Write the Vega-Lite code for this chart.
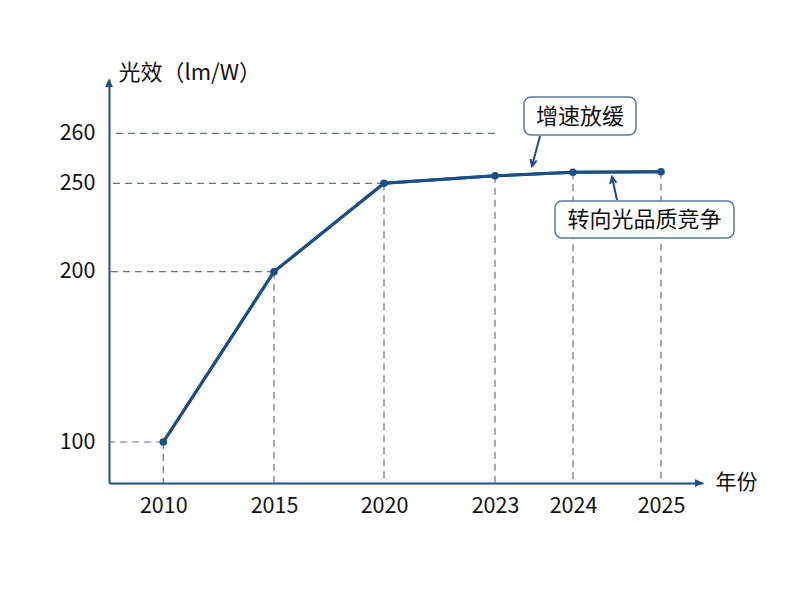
{
  "$schema": "https://vega.github.io/schema/vega-lite/v6.json",
  "width": 594,
  "height": 404,
  "autosize": {"type": "none"},
  "padding": {"left": 109, "top": 79, "right": 97, "bottom": 117},
  "background": "white",
  "config": {"view": {"stroke": null}, "font": "Noto Sans CJK SC"},
  "datasets": {
    "efficacy": [
      {"year": 2010, "lm": 100},
      {"year": 2015, "lm": 200},
      {"year": 2020, "lm": 250},
      {"year": 2023, "lm": 251.5},
      {"year": 2024, "lm": 252.2},
      {"year": 2025, "lm": 252.3}
    ],
    "levels": [
      {"lm": 100, "year": 2010},
      {"lm": 200, "year": 2015},
      {"lm": 250, "year": 2020},
      {"lm": 260, "year": 2023}
    ]
  },
  "layer": [
    {
      "data": {"name": "efficacy"},
      "mark": {"type": "line", "color": "#1c4e89", "strokeWidth": 3},
      "encoding": {
        "x": {
          "field": "year",
          "type": "quantitative",
          "scale": {
            "domain": [2007.5, 2010, 2015, 2020, 2023, 2024, 2025, 2025.5],
            "range": [0, 54.3, 165, 275, 386, 464, 552, 594],
            "nice": false,
            "zero": false
          },
          "axis": {
            "values": [2010, 2015, 2020, 2023, 2024, 2025],
            "format": "d",
            "title": "年份",
            "grid": false,
            "ticks": false,
            "tickSize": 0,
            "domainColor": "#1c4e89",
            "domainWidth": 2,
            "labelFontSize": 21.5,
            "labelColor": "#111111",
            "labelPadding": 12,
            "labelFlush": false,
            "labelOverlap": false,
            "titleFontSize": 21,
            "titleFontWeight": "normal",
            "titleColor": "#111111",
            "titleAngle": 0,
            "titleX": 606,
            "titleY": -1,
            "titleAlign": "left",
            "titleBaseline": "middle"
          }
        },
        "y": {
          "field": "lm",
          "type": "quantitative",
          "scale": {
            "domain": [76, 100, 200, 250, 260, 271],
            "range": [404, 363, 192.7, 104.3, 54.3, 0],
            "nice": false,
            "zero": false
          },
          "axis": {
            "values": [100, 200, 250, 260],
            "title": "光效（lm/W）",
            "grid": false,
            "ticks": false,
            "tickSize": 0,
            "domainColor": "#1c4e89",
            "domainWidth": 2,
            "labelFontSize": 21.5,
            "labelColor": "#111111",
            "labelPadding": 14,
            "labelFlush": false,
            "labelOverlap": false,
            "titleFontSize": 22,
            "titleFontWeight": "normal",
            "titleColor": "#111111",
            "titleAngle": 0,
            "titleX": 9,
            "titleY": -7,
            "titleAlign": "left",
            "titleBaseline": "middle"
          }
        }
      }
    },
    {
      "data": {"name": "levels"},
      "mark": {"type": "rule", "color": "#647386", "strokeWidth": 1.2, "strokeDash": [7, 5]},
      "encoding": {
        "x": {"field": "year", "type": "quantitative"},
        "x2": {"datum": 2007.5},
        "y": {"field": "lm", "type": "quantitative"}
      }
    },
    {
      "data": {"name": "efficacy"},
      "mark": {"type": "rule", "color": "#647386", "strokeWidth": 1.2, "strokeDash": [7, 5]},
      "encoding": {
        "x": {"field": "year", "type": "quantitative"},
        "y": {"field": "lm", "type": "quantitative"},
        "y2": {"datum": 76}
      }
    },
    {
      "data": {"name": "efficacy"},
      "mark": {"type": "line", "color": "#1c4e89", "strokeWidth": 3},
      "encoding": {
        "x": {"field": "year", "type": "quantitative"},
        "y": {"field": "lm", "type": "quantitative"}
      }
    },
    {
      "data": {"name": "efficacy"},
      "mark": {"type": "point", "filled": true, "opacity": 1, "color": "#1c4e89", "size": 58},
      "encoding": {
        "x": {"field": "year", "type": "quantitative"},
        "y": {"field": "lm", "type": "quantitative"}
      }
    },
    {
      "data": {"values": [{}]},
      "mark": {"type": "point", "shape": "M0,0L-2,-1L-2,1Z", "filled": true, "opacity": 1, "color": "#1c4e89", "size": 64},
      "encoding": {
        "x": {"datum": 2025.5, "type": "quantitative"},
        "y": {"datum": 76, "type": "quantitative"}
      }
    },
    {
      "data": {"values": [{}]},
      "mark": {"type": "point", "shape": "M0,0L-1,2L1,2Z", "filled": true, "opacity": 1, "color": "#1c4e89", "size": 64},
      "encoding": {
        "x": {"datum": 2007.5, "type": "quantitative"},
        "y": {"datum": 271, "type": "quantitative"}
      }
    },
    {
      "data": {"values": [{}]},
      "mark": {"type": "rule", "color": "#1f4e79", "strokeWidth": 2},
      "encoding": {
        "x": {"datum": 2023.577, "type": "quantitative"},
        "y": {"datum": 259.46, "type": "quantitative"},
        "x2": {"datum": 2023.474},
        "y2": {"datum": 253.46}
      }
    },
    {
      "data": {"values": [{}]},
      "mark": {"type": "point", "shape": "M-0.8,-1.6L0,0L0.8,-1.6", "filled": false, "opacity": 1, "strokeWidth": 2, "color": "#1f4e79", "size": 64, "angle": 15},
      "encoding": {
        "x": {"datum": 2023.474, "type": "quantitative"},
        "y": {"datum": 253.46, "type": "quantitative"}
      }
    },
    {
      "data": {"values": [{}]},
      "mark": {"type": "rule", "color": "#1f4e79", "strokeWidth": 2},
      "encoding": {
        "x": {"datum": 2024.5, "type": "quantitative"},
        "y": {"datum": 240.55, "type": "quantitative"},
        "x2": {"datum": 2024.443},
        "y2": {"datum": 251.26}
      }
    },
    {
      "data": {"values": [{}]},
      "mark": {"type": "point", "shape": "M-0.8,-1.6L0,0L0.8,-1.6", "filled": false, "opacity": 1, "strokeWidth": 2, "color": "#1f4e79", "size": 64, "angle": 168},
      "encoding": {
        "x": {"datum": 2024.443, "type": "quantitative"},
        "y": {"datum": 251.26, "type": "quantitative"}
      }
    },
    {
      "data": {"values": [{}]},
      "mark": {"type": "rect", "fill": "white", "stroke": "#5a7896", "strokeWidth": 1.5, "cornerRadius": 7},
      "encoding": {
        "x": {"datum": 2023.372, "type": "quantitative"},
        "x2": {"datum": 2024.716},
        "y": {"datum": 267.35, "type": "quantitative"},
        "y2": {"datum": 259.66}
      }
    },
    {
      "data": {"values": [{}]},
      "mark": {"type": "rect", "fill": "white", "stroke": "#5a7896", "strokeWidth": 1.5, "cornerRadius": 7},
      "encoding": {
        "x": {"datum": 2023.769, "type": "quantitative"},
        "x2": {"datum": 2025.869},
        "y": {"datum": 239.99, "type": "quantitative"},
        "y2": {"datum": 219.06}
      }
    },
    {
      "data": {"values": [{}]},
      "mark": {"type": "text", "text": "增速放缓", "fontSize": 22, "color": "#111111", "align": "center", "baseline": "middle"},
      "encoding": {
        "x": {"datum": 2024.08, "type": "quantitative"},
        "y": {"datum": 263.3, "type": "quantitative"}
      }
    },
    {
      "data": {"values": [{}]},
      "mark": {"type": "text", "text": "转向光品质竞争", "fontSize": 22, "color": "#111111", "align": "center", "baseline": "middle"},
      "encoding": {
        "x": {"datum": 2024.8125, "type": "quantitative"},
        "y": {"datum": 229.24, "type": "quantitative"}
      }
    }
  ]
}
